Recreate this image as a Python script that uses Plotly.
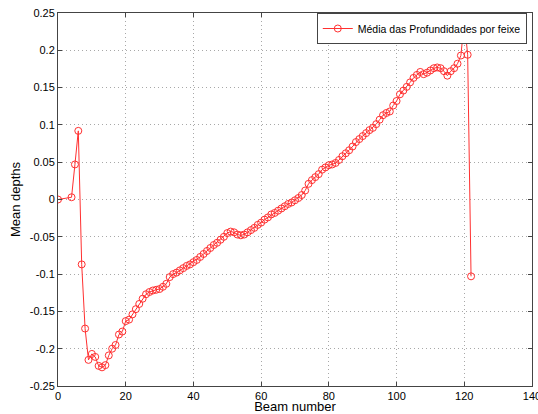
import plotly.graph_objects as go

beams = [0] + list(range(4, 123))
mean_depths = [
    0.000,
    0.003, 0.047, 0.092, -0.087, -0.173, -0.215, -0.207, -0.211, -0.223, -0.225,
    -0.222, -0.209, -0.200, -0.195, -0.181, -0.177, -0.163, -0.161, -0.154, -0.147,
    -0.140, -0.133, -0.127, -0.124, -0.122, -0.121, -0.120, -0.117, -0.113, -0.104,
    -0.100, -0.098, -0.095, -0.092, -0.089, -0.087, -0.084, -0.081, -0.077, -0.073,
    -0.069, -0.065, -0.061, -0.058, -0.054, -0.050, -0.045, -0.043, -0.044, -0.047,
    -0.048, -0.047, -0.044, -0.041, -0.038, -0.034, -0.031, -0.027, -0.024, -0.020,
    -0.018, -0.015, -0.012, -0.009, -0.006, -0.004, -0.001, 0.002, 0.006, 0.012,
    0.021, 0.026, 0.030, 0.034, 0.040, 0.043, 0.046, 0.047, 0.049, 0.053,
    0.058, 0.062, 0.066, 0.071, 0.077, 0.081, 0.085, 0.089, 0.093, 0.096,
    0.101, 0.107, 0.113, 0.116, 0.118, 0.126, 0.132, 0.141, 0.146, 0.151,
    0.157, 0.163, 0.167, 0.171, 0.168, 0.170, 0.173, 0.176, 0.177, 0.176,
    0.172, 0.166, 0.172, 0.176, 0.182, 0.193, 0.240, 0.194, -0.103,
]

x_tickvals = [0, 20, 40, 60, 80, 100, 120, 140]
x_ticktext = ["0", "20", "40", "60", "80", "100", "120", "140"]
y_tickvals = [-0.25, -0.2, -0.15, -0.1, -0.05, 0, 0.05, 0.1, 0.15, 0.2, 0.25]
y_ticktext = ["-0.25", "-0.2", "-0.15", "-0.1", "-0.05", "0", "0.05", "0.1", "0.15", "0.2", "0.25"]

series_name = "Média das Profundidades por feixe"
x_title = "Beam number"
y_title = "Mean depths"

fig = go.Figure()
fig.add_trace(go.Scatter(
    x=beams, y=mean_depths, mode="lines+markers", name=series_name,
    line=dict(color="#ff3030", width=1),
    marker=dict(symbol="circle-open", size=7, color="#ff3030", line=dict(width=1, color="#ff3030")),
))

font_family = "Liberation Sans, Arial, sans-serif"
axis_common = dict(
    showline=True, linecolor="#444444", linewidth=1, mirror="ticks",
    ticks="inside", ticklen=4, tickcolor="#444444",
    showgrid=True, gridcolor="#a8a8a8", griddash="1px,3px", gridwidth=1,
    zeroline=False, tickfont=dict(family=font_family, size=11, color="#000000"),
    automargin=False, ticklabeloverflow="allow",
)

fig.update_layout(
    width=538, height=414,
    margin=dict(l=58, r=6, t=13, b=28),
    paper_bgcolor="white", plot_bgcolor="white",
    font=dict(family=font_family, size=11, color="#000000"),
    showlegend=True,
    legend=dict(
        x=0.989, y=1.0, xanchor="right", yanchor="top",
        bgcolor="white", bordercolor="#444444", borderwidth=1,
        font=dict(family=font_family, size=10.5, color="#000000"),
        itemwidth=30, tracegroupgap=0,
    ),
    xaxis=dict(range=[0, 140], tickvals=x_tickvals, ticktext=x_ticktext,
               title=dict(text=x_title, font=dict(family=font_family, size=13), standoff=0),
               **axis_common),
    yaxis=dict(range=[-0.25, 0.25], tickvals=y_tickvals, ticktext=y_ticktext,
               title=dict(text=y_title, font=dict(family=font_family, size=13), standoff=6),
               **axis_common),
)

fig.write_html("out.html", config={"displayModeBar": False},
               post_script="document.body.style.margin='0';document.body.style.overflow='hidden';")
